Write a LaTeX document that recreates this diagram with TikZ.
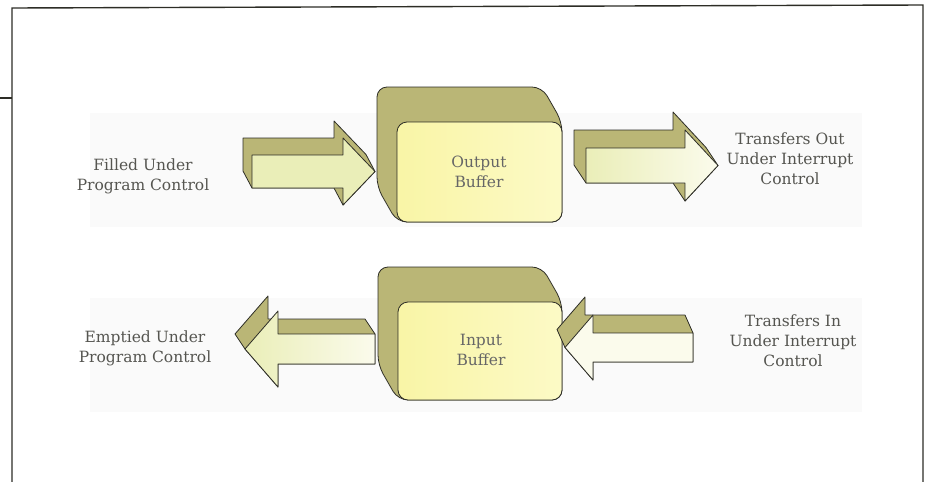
\documentclass[tikz,border=0pt]{standalone}
\usepackage{fontspec}
\setmainfont{DejaVu Serif}
\usetikzlibrary{calc}

\definecolor{olivebk}{RGB}{186,182,118}
\definecolor{boxfront}{RGB}{249,245,166}
\definecolor{boxlight}{RGB}{252,250,198}
\definecolor{arrgreen}{RGB}{234,238,184}
\definecolor{arrpale}{RGB}{251,251,236}
\definecolor{inkline}{RGB}{45,45,38}
\definecolor{labeltext}{RGB}{85,85,80}

\tikzset{
  backpart/.style={fill=olivebk, draw=inkline, line width=0.8pt, line join=round},
  frontpart/.style={draw=inkline, line width=0.8pt, line join=round},
  lbl/.style={align=center, text=labeltext, font=\fontsize{15.5}{20}\selectfont},
  boxlbl/.style={lbl, text=black!60},
  band/.style={fill=black!2},
}

% 3d arrow pointing right: x0, xh, xt, s1, s2, h2, dx, dy, face style
\newcommand{\arrowright}[9]{%
  \pgfmathsetmacro\yc{(#4+#5)/2}
  \pgfmathsetmacro\hone{#4+#5-#6}
  \draw[backpart] (#1-#7,#4-#8) -- (#2-#7,#4-#8) -- (#2-#7,\hone-#8) -- (#3-#7,\yc-#8)
    -- (#3,\yc) -- (#2,#6) -- (#2-#7,#6-#8) -- (#2-#7,#5) -- (#1,#5) -- (#1-#7,#5-#8) -- cycle;
  \draw[frontpart,#9] (#1,#4) -- (#2,#4) -- (#2,\hone) -- (#3,\yc) -- (#2,#6) -- (#2,#5) -- (#1,#5) -- cycle;
}
% 3d arrow pointing left: xt, xh, xe, s1, s2, h2, dx, dy, face style
\newcommand{\arrowleft}[9]{%
  \pgfmathsetmacro\yc{(#4+#5)/2}
  \pgfmathsetmacro\hone{#4+#5-#6}
  \draw[backpart] (#1,\yc) -- (#1-#7,\yc-#8) -- (#2-#7,\hone-#8) -- (#2-#7,#4-#8) -- (#3-#7,#4-#8)
    -- (#3,#4) -- (#3,#5) -- (#2,#5) -- (#2,#6) -- cycle;
  \draw[frontpart,#9] (#1,\yc) -- (#2,\hone) -- (#2,#4) -- (#3,#4) -- (#3,#5) -- (#2,#5) -- (#2,#6) -- cycle;
}

\begin{document}
\begin{tikzpicture}[x=1pt,y=-1pt]
  \useasboundingbox (0,0) rectangle (927,482);

  % faint scanned bands
  \fill[band] (90,113) rectangle (862,227);
  \fill[band] (90,298) rectangle (862,412);

  % frame
  \draw[inkline, line width=1.4pt] (12,482) -- (12,8) -- (923,5) -- (923,482);
  \draw[inkline, line width=1.4pt] (0,98) -- (12,98);

  % output buffer
  \draw[backpart, rounded corners=10pt] (377,87) -- (542,87) -- (562,122) -- (562,222) -- (397,222) -- (377,187) -- cycle;
  \draw[frontpart, rounded corners=10pt, left color=boxfront, right color=boxlight] (397,122) rectangle (562,222);
  \node[boxlbl] (outbuf) at (479,172) {Output\\Buffer};

  % input buffer
  \draw[backpart, rounded corners=10pt] (378,267) -- (542,267) -- (562,302) -- (562,400) -- (398,400) -- (378,365) -- cycle;
  \draw[frontpart, rounded corners=10pt, left color=boxfront, right color=boxlight] (398,302) rectangle (562,400);
  \node[boxlbl] (inbuf) at (481,350) {Input\\Buffer};

  % arrows
  \arrowright{252}{343}{375}{155}{188}{205}{9}{17}{fill=arrgreen}
  \arrowright{586}{685}{718}{148}{183}{201}{12}{18}{left color=arrgreen, right color=arrpale}
  \arrowleft{245}{278}{375}{334}{364}{387}{10}{15}{left color=arrgreen, right color=arrpale}
  \arrowleft{565}{593}{693}{333}{362}{380}{8}{18}{left color=arrpale, right color=arrpale}

  % labels
  \node[lbl] (filled) at (143,176) {Filled Under\\Program Control};
  \node[lbl] (tout) at (790,159) {Transfers Out\\Under Interrupt\\Control};
  \node[lbl] (emptied) at (145,348) {Emptied Under\\Program Control};
  \node[lbl] (tin) at (793,341) {Transfers In\\Under Interrupt\\Control};
\end{tikzpicture}
\end{document}
